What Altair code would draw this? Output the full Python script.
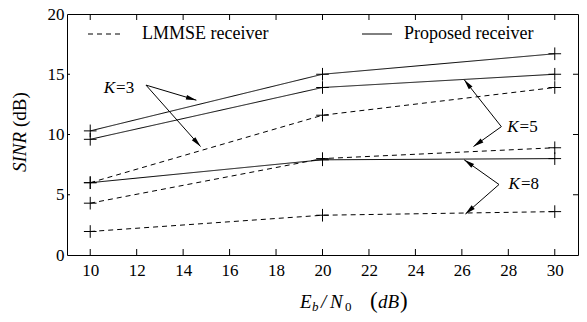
import math
import altair as alt
import pandas as pd

# ---- data ----
snr = [10, 20, 30]
prop_k3 = [10.3, 15.0, 16.7]
prop_k5 = [9.6, 13.9, 15.0]
prop_k8 = [6.0, 7.9, 8.0]
lmmse_k3 = [6.0, 11.6, 13.9]
lmmse_k5 = [4.3, 8.0, 8.9]
lmmse_k8 = [1.95, 3.3, 3.6]

x_ticks = list(range(10, 31, 2))
y_inner_ticks = [5, 10, 15]
y_labels = [0, 5, 10, 15, 20]

# annotation arrows: (label, start, end) in data units
arrows = [
    ("K3a", (12.4, 14.1), (14.57, 12.85)),
    ("K3b", (12.4, 14.1), (14.75, 9.0)),
    ("K5a", (27.7, 10.65), (26.1, 14.55)),
    ("K5b", (27.7, 10.65), (26.5, 9.0)),
    ("K8a", (27.6, 5.85), (26.1, 7.9)),
    ("K8b", (27.6, 5.85), (26.15, 3.4)),
]
k_labels = ["3", "5", "8"]
k_label_pos = [(11.07, 13.85), (28.44, 10.6), (28.5, 5.87)]

FONT = "Liberation Serif"
W, H = 511, 241
XD, YD = [9, 31], [0, 20]

rows = []
for name, vals in [("P3", prop_k3), ("P5", prop_k5), ("P8", prop_k8)]:
    for s, v in zip(snr, vals):
        rows.append({"series": name, "receiver": "Proposed", "snr": s, "sinr": v})
for name, vals in [("L3", lmmse_k3), ("L5", lmmse_k5), ("L8", lmmse_k8)]:
    for s, v in zip(snr, vals):
        rows.append({"series": name, "receiver": "LMMSE", "snr": s, "sinr": v})
df = pd.DataFrame(rows)

xs = alt.Scale(domain=XD, nice=False, zero=False)
ys = alt.Scale(domain=YD, nice=False, zero=False)

x_enc = alt.X("snr:Q", scale=xs,
              axis=alt.Axis(values=x_ticks, ticks=False, domain=False, grid=False,
                            labelFont=FONT, labelFontSize=17, labelPadding=7,
                            labelColor="black", title=None))
y_enc = alt.Y("sinr:Q", scale=ys,
              axis=alt.Axis(values=y_labels, ticks=False, domain=False, grid=False,
                            labelFont=FONT, labelFontSize=17, labelPadding=3,
                            labelColor="black", title=None))

lines = alt.Chart(df).mark_line(color="black", strokeWidth=1).encode(
    x=x_enc, y=y_enc, detail="series:N",
    strokeDash=alt.StrokeDash("receiver:N",
                              scale=alt.Scale(domain=["LMMSE", "Proposed"],
                                              range=[[5, 4], [1, 0]]),
                              legend=None),
)
markers = alt.Chart(df).mark_point(shape="M-1,0H1M0,-1V1", size=160, filled=False,
                                   color="black", strokeWidth=1, opacity=1).encode(
    x=alt.X("snr:Q", scale=xs), y=alt.Y("sinr:Q", scale=ys))

# arrows
px_x = W / (XD[1] - XD[0])
px_y = H / (YD[1] - YD[0])
seg_rows, head_rows = [], []
for name, (x0, y0), (x1, y1) in arrows:
    seg_rows.append({"a": name, "o": 0, "snr": x0, "sinr": y0})
    seg_rows.append({"a": name, "o": 1, "snr": x1, "sinr": y1})
    dx = (x1 - x0) * px_x
    dy = -(y1 - y0) * px_y
    ang = math.degrees(math.atan2(dx, -dy)) % 360
    head_rows.append({"snr": x1, "sinr": y1, "ang": ang})
seg_df = pd.DataFrame(seg_rows)
head_df = pd.DataFrame(head_rows)

arrow_lines = alt.Chart(seg_df).mark_line(color="black", strokeWidth=1).encode(
    x=alt.X("snr:Q", scale=xs), y=alt.Y("sinr:Q", scale=ys), detail="a:N", order="o:Q")
arrow_heads = alt.Chart(head_df).mark_point(shape="M0,0L-0.5,2.2L0.5,2.2Z", size=90,
                                            filled=True, color="black", opacity=1,
                                            strokeWidth=0).encode(
    x=alt.X("snr:Q", scale=xs), y=alt.Y("sinr:Q", scale=ys),
    angle=alt.Angle("ang:Q", scale=None))

kdf = pd.DataFrame({"snr": [p[0] for p in k_label_pos],
                    "sinr": [p[1] for p in k_label_pos],
                    "k": ["=" + k for k in k_labels]})
k_italic = alt.Chart(kdf).mark_text(font=FONT, fontSize=17, fontStyle="italic",
                                    align="right", baseline="middle", color="black").encode(
    x=alt.X("snr:Q", scale=xs), y=alt.Y("sinr:Q", scale=ys), text=alt.value("K"))
k_num = alt.Chart(kdf).mark_text(font=FONT, fontSize=17, align="left", dx=1,
                                 baseline="middle", color="black").encode(
    x=alt.X("snr:Q", scale=xs), y=alt.Y("sinr:Q", scale=ys), text="k:N")

# frame ticks (inward)
xt = pd.DataFrame({"snr": x_ticks})
yt = pd.DataFrame({"sinr": y_inner_ticks})
tick_b = alt.Chart(xt).mark_rule(color="black", strokeWidth=1).encode(
    x=alt.X("snr:Q", scale=xs), y=alt.value(H), y2=alt.value(H - 6))
tick_t = alt.Chart(xt).mark_rule(color="black", strokeWidth=1).encode(
    x=alt.X("snr:Q", scale=xs), y=alt.value(0), y2=alt.value(6))
tick_l = alt.Chart(yt).mark_rule(color="black", strokeWidth=1).encode(
    y=alt.Y("sinr:Q", scale=ys), x=alt.value(0), x2=alt.value(3))
tick_r = alt.Chart(yt).mark_rule(color="black", strokeWidth=1).encode(
    y=alt.Y("sinr:Q", scale=ys), x=alt.value(W), x2=alt.value(W - 5))

one = pd.DataFrame({"_": [0]})


def txt(s, x, y, size=18, style="normal", align="left", angle=0):
    kw = dict(font=FONT, fontSize=size, align=align, baseline="middle", color="black")
    if style != "normal":
        kw["fontStyle"] = style
    if angle:
        kw["angle"] = angle
    return alt.Chart(one).mark_text(**kw).encode(
        x=alt.value(x), y=alt.value(y), text=alt.value(s))


# legend (drawn in the plot)
leg_dash = alt.Chart(one).mark_rule(color="black", strokeWidth=1, strokeDash=[5, 4]).encode(
    x=alt.value(21), x2=alt.value(53), y=alt.value(20))
leg_solid = alt.Chart(one).mark_rule(color="black", strokeWidth=1).encode(
    x=alt.value(295), x2=alt.value(325), y=alt.value(20))
leg_t1 = txt("LMMSE receiver", 75, 20, 18)
leg_t2 = txt("Proposed  receiver", 337, 20, 18)

# axis titles
xt_parts = [
    txt("E", 233, 288, 19, "italic"),
    txt("b", 245, 293, 13, "italic"),
    txt("/", 254, 288, 19, "italic"),
    txt("N", 263, 288, 19, "italic"),
    txt("0", 278, 293, 13),
    txt("(", 303, 287, 23),
    txt("dB", 311, 288, 19, "italic"),
    txt(")", 333, 287, 23),
]
yt_parts = [
    txt("SINR", -47, 158, 19, "italic", "left", 270),
    txt("(dB)", -47, 113, 19, "normal", "left", 270),
]

chart = alt.layer(
    lines, markers, arrow_lines, arrow_heads, k_italic, k_num,
    tick_b, tick_t, tick_l, tick_r,
    leg_dash, leg_solid, leg_t1, leg_t2, *xt_parts, *yt_parts,
).properties(
    width=W, height=H,
    autosize=alt.AutoSizeParams(type="none"),
    padding={"left": 59, "top": 6, "right": 1, "bottom": 59},
    background="white",
).configure_view(stroke="black", strokeWidth=1)

chart.save("out.html", embed_options={"renderer": "svg", "actions": False})
